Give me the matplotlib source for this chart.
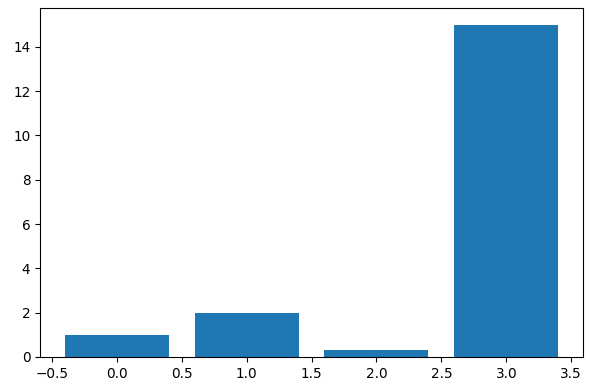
import matplotlib
matplotlib.use("Agg")
import matplotlib.pyplot as plt

# bar data
positions = [0, 1, 2, 3]
heights = [1, 2, 0.3, 15]

DPI = 98.3
fig = plt.figure(figsize=(590 / DPI, 392 / DPI), dpi=DPI)
ax = fig.add_axes([40 / 590, 1 - 357 / 392, (583 - 40) / 590, (357 - 8) / 392])
ax.bar(positions, heights, color="#1f77b4")
ax.set_xticks([-0.5, 0.0, 0.5, 1.0, 1.5, 2.0, 2.5, 3.0, 3.5])
fig.savefig("out.png", dpi=DPI)
